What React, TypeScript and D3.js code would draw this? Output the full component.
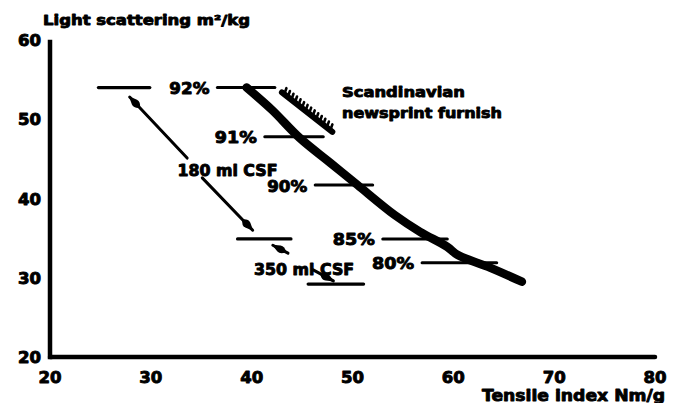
import React from "react";
import * as d3 from "d3";

// ---- data ----
const xTicks = [20, 30, 40, 50, 60, 70, 80];
const yTicks = [20, 30, 40, 50, 60];

// main curve: tensile index (Nm/g) vs light scattering (m2/kg)
const curveX = [39.5, 42.0, 44.8, 47.8, 50.5, 54.2, 56.7, 59.4, 60.4, 63.4, 66.8];
const curveY = [54.0, 51.2, 47.6, 44.5, 41.7, 37.9, 35.8, 33.9, 32.9, 31.4, 29.5];

// yield (%) markers: label, level, start, end
const pctLabels = ["92%", "91%", "90%", "85%", "80%"];
const pctY = [54.0, 47.8, 41.7, 34.9, 31.9];
const pctX0 = [36.6, 41.3, 46.3, 53.0, 56.9];
const pctX1 = [42.3, 47.1, 52.0, 59.4, 64.3];

// freeness reference lines
const csfY = [54.0, 34.9, 29.2];
const csfX0 = [24.8, 38.6, 45.6];
const csfX1 = [29.9, 43.9, 51.1];

// Scandinavian newsprint furnish segment
const furnishX = [43.0, 48.0];
const furnishY = [53.4, 48.4];

// arrows [x0, y0, x1, y1] (head at x1,y1)
const arrowX0 = [33.6, 35.1, 43.6, 46.1];
const arrowY0 = [45.1, 42.6, 33.1, 31.0];
const arrowX1 = [27.9, 40.1, 42.1, 48.1];
const arrowY1 = [52.8, 36.0, 34.1, 29.6];

const csfLabels = ["180 ml CSF", "350 ml CSF"];
const csfLabelX = [37.6, 45.2];
const csfLabelY = [43.5, 31.0];

const FONT = "'DejaVu Sans', 'Liberation Sans', sans-serif";
const TS = { stroke: "#000", strokeWidth: 0.9, strokeLinejoin: "round" as const };

export default function App() {
  const W = 680, H = 403;
  const x = d3.scaleLinear().domain([20, 80]).range([50, 655]);
  const y = d3.scaleLinear().domain([20, 60]).range([357, 40]);

  const curvePts: [number, number][] = curveX.map((v, i) => [x(v), y(curveY[i])]);
  const line = d3.line().curve(d3.curveCatmullRom.alpha(0.5));
  const curvePath = line(curvePts) || "";

  // furnish hatch
  const fx0 = x(furnishX[0]), fy0 = y(furnishY[0]);
  const fx1 = x(furnishX[1]), fy1 = y(furnishY[1]);
  const flen = Math.hypot(fx1 - fx0, fy1 - fy0);
  const ux = (fx1 - fx0) / flen, uy = (fy1 - fy0) / flen;
  const nx = uy, ny = -ux; // normal pointing up-right
  const teeth = d3.range(3, flen - 2, 4.5);

  const pctTextW = [40, 42, 40, 42, 42];

  return (
    <svg width={W} height={H} style={{ position: "absolute", left: 0, top: 0, background: "#fff" }}>
      <defs>
        <marker id="ah" viewBox="0 0 16 10" refX="15" refY="5" markerWidth="16" markerHeight="10" markerUnits="userSpaceOnUse" orient="auto">
          <path d="M0,5 Q4,0 8,1.5 L16,5 L8,8.5 Q4,10 0,5 Z" fill="#000" />
        </marker>
      </defs>

      {/* axes */}
      <line x1={x(20)} x2={x(20)} y1={y(60) + 2} y2={y(20)} stroke="#000" strokeWidth={4.5} strokeLinecap="square" />
      <line x1={x(20)} x2={x(80)} y1={y(20)} y2={y(20)} stroke="#000" strokeWidth={4.5} strokeLinecap="round" />

      {yTicks.map((t) => (
        <text key={"y" + t} x={41} y={y(t) + 1} textAnchor="end" dominantBaseline="central" {...TS}
          fontFamily={FONT} fontWeight={900} fontSize={15} textLength={23} lengthAdjust="spacingAndGlyphs">{t}</text>
      ))}
      {xTicks.map((t) => (
        <text key={"x" + t} x={x(t)} y={377} textAnchor="middle" dominantBaseline="central" {...TS}
          fontFamily={FONT} fontWeight={900} fontSize={16} textLength={23} lengthAdjust="spacingAndGlyphs">{t}</text>
      ))}

      <text x={43} y={20} dominantBaseline="central" fontFamily={FONT} fontWeight={900} fontSize={14} {...TS}
        textLength={207} lengthAdjust="spacingAndGlyphs">Light scattering m²/kg</text>
      <text x={665} y={395} textAnchor="end" dominantBaseline="central" fontFamily={FONT} fontWeight={900} fontSize={16} {...TS}
        textLength={183} lengthAdjust="spacingAndGlyphs">Tensile index Nm/g</text>

      {/* main curve */}
      <path d={curvePath} fill="none" stroke="#000" strokeWidth={8.5} strokeLinecap="round" strokeLinejoin="round" />

      {/* yield markers */}
      {pctLabels.map((lab, i) => (
        <g key={lab}>
          <line x1={x(pctX0[i])} x2={x(pctX1[i])} y1={y(pctY[i])} y2={y(pctY[i])} stroke="#000" strokeWidth={3} strokeLinecap="round" />
          <text x={x(pctX0[i]) - 8} y={y(pctY[i]) + 1} textAnchor="end" dominantBaseline="central" {...TS}
            fontFamily={FONT} fontWeight={900} fontSize={16} textLength={pctTextW[i]} lengthAdjust="spacingAndGlyphs">{lab}</text>
        </g>
      ))}

      {/* furnish hatched line */}
      <line x1={fx0} y1={fy0} x2={fx1} y2={fy1} stroke="#000" strokeWidth={6} strokeLinecap="round" />
      {teeth.map((d, i) => (
        <line key={"t" + i} x1={fx0 + ux * d} y1={fy0 + uy * d} x2={fx0 + ux * d + nx * 6 - ux * 2} y2={fy0 + uy * d + ny * 6 - uy * 2}
          stroke="#000" strokeWidth={2.6} strokeLinecap="round" />
      ))}
      <text x={342} y={92} dominantBaseline="central" fontFamily={FONT} fontWeight={900} fontSize={14} {...TS}
        textLength={123} lengthAdjust="spacingAndGlyphs">Scandinavian</text>
      <text x={342} y={113} dominantBaseline="central" fontFamily={FONT} fontWeight={900} fontSize={14} {...TS}
        textLength={160} lengthAdjust="spacingAndGlyphs">newsprint furnish</text>

      {/* CSF lines */}
      {csfY.map((v, i) => (
        <line key={"c" + i} x1={x(csfX0[i])} x2={x(csfX1[i])} y1={y(v)} y2={y(v)} stroke="#000" strokeWidth={3.2} strokeLinecap="round" />
      ))}
      {arrowX0.map((v, i) => (
        <line key={"a" + i} x1={x(v)} y1={y(arrowY0[i])} x2={x(arrowX1[i])} y2={y(arrowY1[i])}
          stroke="#000" strokeWidth={3} strokeLinecap="round" markerEnd="url(#ah)" />
      ))}
      {csfLabels.map((lab, i) => (
        <text key={lab} x={x(csfLabelX[i])} y={y(csfLabelY[i])} textAnchor="middle" dominantBaseline="central" {...TS}
          fontFamily={FONT} fontWeight={900} fontSize={15} textLength={100} lengthAdjust="spacingAndGlyphs">{lab}</text>
      ))}
    </svg>
  );
}
